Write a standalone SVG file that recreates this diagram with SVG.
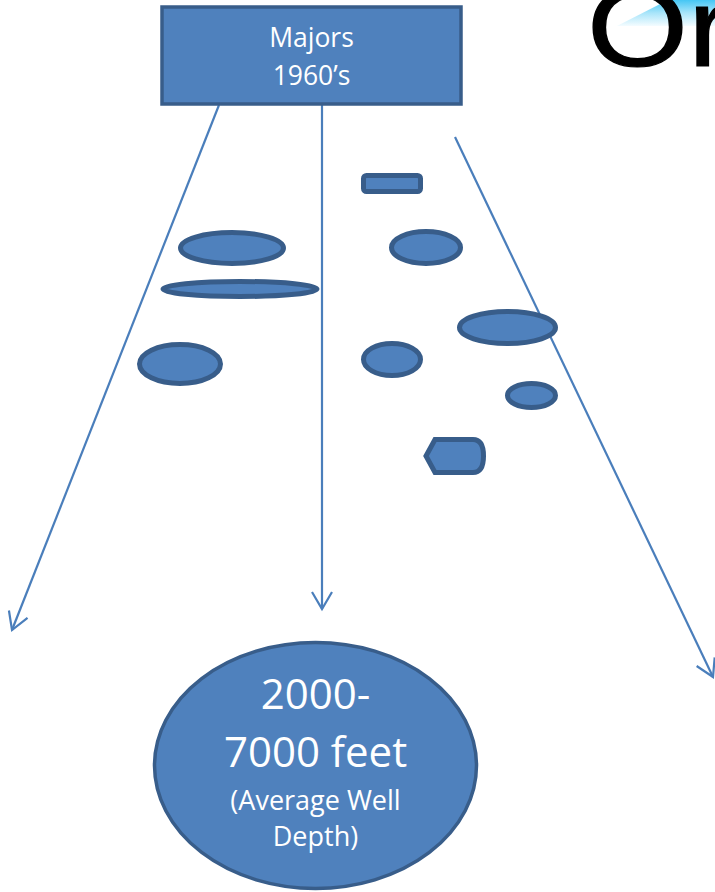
<svg xmlns="http://www.w3.org/2000/svg" width="715" height="892" viewBox="0 0 715 892">
  <style>
    .shape { fill: #4F81BD; stroke: #385D8A; stroke-width: 5; }
    .big { fill: #4F81BD; stroke: #385D8A; stroke-width: 3.5; }
    .link { fill: none; stroke: #4A7EBB; stroke-width: 2.2; }
    .label { font-family: "Open Sans", "Liberation Sans", sans-serif; fill: #FFFFFF; text-anchor: middle; }
    .title { font-family: "Liberation Sans", "DejaVu Sans", sans-serif; fill: #000000; }
  </style>
  <defs>
    <marker id="vee" markerUnits="userSpaceOnUse" markerWidth="24" markerHeight="24" viewBox="-20 -12 24 24" refX="0" refY="0" orient="auto">
      <path d="M -17,-10 L 0,0 L -17,10" fill="none" stroke="#4A7EBB" stroke-width="2.2" stroke-linejoin="miter"/>
    </marker>
    <linearGradient id="glow" x1="0" y1="0" x2="0" y2="1">
      <stop offset="0" stop-color="#45C6F4"/>
      <stop offset="0.5" stop-color="#A9E5FA"/>
      <stop offset="1" stop-color="#F4FCFF"/>
    </linearGradient>
  </defs>

  <!-- title fragment in the top-right corner -->
  <g id="title">
    <polygon points="617,26 715,26 715,0 668,0" fill="url(#glow)"/>
    <text class="title" x="0" y="0" font-size="112" stroke="#000000" stroke-width="1.2" transform="translate(587,65.5) scale(1.16,1)">Or</text>
  </g>

  <!-- connectors -->
  <g id="connectors">
    <line class="link" x1="219" y1="105" x2="12" y2="630" marker-end="url(#vee)"/>
    <line class="link" x1="322" y1="105" x2="322" y2="609" marker-end="url(#vee)"/>
    <line class="link" x1="455" y1="137" x2="713" y2="677" marker-end="url(#vee)"/>
  </g>

  <g id="majors">
    <rect class="big" x="162" y="7" width="299" height="97" stroke-width="4"/>
    <text class="label" x="311.5" y="47" font-size="26.5">Majors</text>
    <text class="label" x="311.5" y="85" font-size="26.5">1960’s</text>
  </g>

  <!-- scattered deposits -->
  <g id="bar"><rect class="shape" x="363.5" y="175.5" width="57" height="16" rx="3"/></g>
  <g id="oval-a"><ellipse class="shape" cx="232" cy="248" rx="51.5" ry="15.5"/></g>
  <g id="oval-b"><ellipse class="shape" cx="240" cy="289" rx="77" ry="7.5"/></g>
  <g id="oval-c"><ellipse class="shape" cx="180" cy="364" rx="40.5" ry="19.5"/></g>
  <g id="oval-d"><ellipse class="shape" cx="426" cy="247.5" rx="34.5" ry="16"/></g>
  <g id="oval-e"><ellipse class="shape" cx="507.5" cy="327.5" rx="48" ry="16"/></g>
  <g id="oval-f"><ellipse class="shape" cx="392" cy="359.5" rx="28.5" ry="16"/></g>
  <g id="oval-g"><ellipse class="shape" cx="531.5" cy="395.5" rx="24" ry="12"/></g>
  <g id="display">
    <path class="shape" d="M 426,456 L 435,439.5 L 473,439.5 Q 483.5,439.5 483.5,456 Q 483.5,472.5 473,472.5 L 435,472.5 Z"/>
  </g>

  <g id="depth">
    <ellipse class="big" cx="315.5" cy="765.5" rx="161" ry="123"/>
    <text class="label" x="315.5" y="709" font-size="42">2000-</text>
    <text class="label" x="315.5" y="767" font-size="42">7000 feet</text>
    <text class="label" x="315.5" y="810" font-size="27">(Average Well</text>
    <text class="label" x="315.5" y="846" font-size="27">Depth)</text>
  </g>
</svg>
